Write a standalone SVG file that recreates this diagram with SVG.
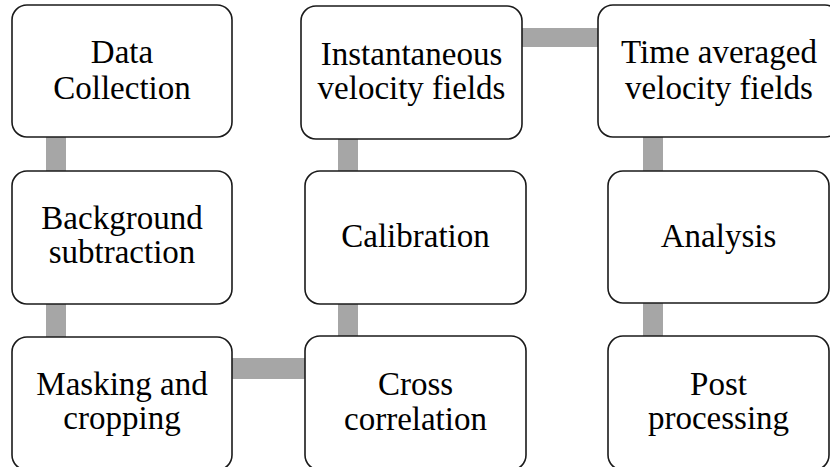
<svg xmlns="http://www.w3.org/2000/svg" width="830" height="467" viewBox="0 0 830 467">
<style>
.box{fill:#fff;stroke:#1a1a1a;stroke-width:1.6}
.bar{fill:#a6a6a6}
text{font-family:"Liberation Serif","Times New Roman",serif;font-size:33px;fill:#000;text-anchor:middle}
</style>
<rect width="830" height="467" fill="#fff"/>
<g id="connectors">
<rect class="bar" x="46" y="130" width="20" height="48"/>
<rect class="bar" x="46" y="296" width="20" height="48"/>
<rect class="bar" x="225" y="358" width="87" height="21"/>
<rect class="bar" x="338" y="296" width="20" height="48"/>
<rect class="bar" x="338" y="130" width="20" height="48"/>
<rect class="bar" x="515" y="28" width="90" height="19"/>
<rect class="bar" x="643" y="130" width="20" height="48"/>
<rect class="bar" x="643" y="296" width="20" height="48"/>
</g>
<g id="n1"><rect class="box" x="12" y="5" width="220" height="132" rx="15"/><text x="122" y="63">Data</text><text x="122" y="99">Collection</text></g>
<g id="n2"><rect class="box" x="12" y="171" width="220" height="133" rx="15"/><text x="122" y="229">Background</text><text x="122" y="263">subtraction</text></g>
<g id="n3"><rect class="box" x="12" y="337" width="220" height="133" rx="15"/><text x="122" y="395">Masking and</text><text x="122" y="429">cropping</text></g>
<g id="n4"><rect class="box" x="305" y="336" width="221" height="134" rx="15"/><text x="415.5" y="395">Cross</text><text x="415.5" y="430">correlation</text></g>
<g id="n5"><rect class="box" x="305" y="171" width="221" height="133" rx="15"/><text x="415.5" y="247">Calibration</text></g>
<g id="n6"><rect class="box" x="301" y="6" width="221" height="133" rx="15"/><text x="411.5" y="65">Instantaneous</text><text x="411.5" y="99">velocity fields</text></g>
<g id="n7"><rect class="box" x="598" y="5" width="242" height="132" rx="15"/><text x="719" y="63">Time averaged</text><text x="719" y="99">velocity fields</text></g>
<g id="n8"><rect class="box" x="608" y="171" width="221" height="132" rx="15"/><text x="718.5" y="247">Analysis</text></g>
<g id="n9"><rect class="box" x="608" y="336" width="221" height="134" rx="15"/><text x="718.5" y="395">Post</text><text x="718.5" y="429">processing</text></g>
</svg>
